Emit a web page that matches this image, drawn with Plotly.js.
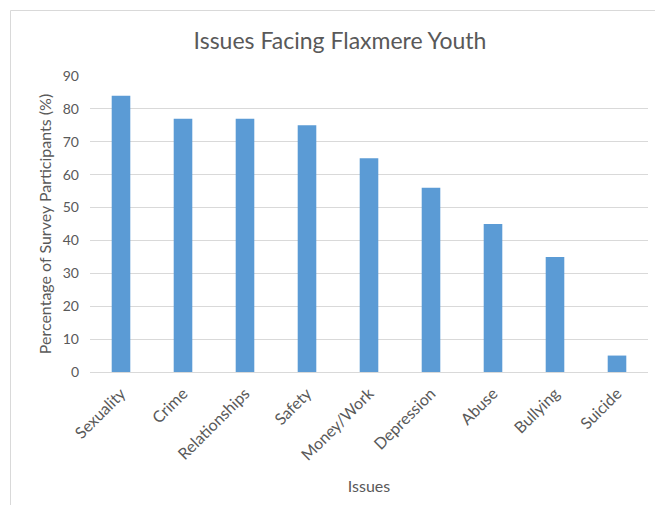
<!DOCTYPE html>
<html>
<head>
<meta charset="utf-8">
<script src="https://cdn.plot.ly/plotly-3.0.1.min.js"></script>
<style>html,body{margin:0;padding:0;background:#fff;}#chart{width:655px;height:505px;}</style>
</head>
<body>
<div id="chart"></div>
<script>
const categories = ["Sexuality", "Crime", "Relationships", "Safety", "Money/Work", "Depression", "Abuse", "Bullying", "Suicide"];
const values = [84, 77, 77, 75, 65, 56, 45, 35, 5];
const yTicks = [0, 10, 20, 30, 40, 50, 60, 70, 80, 90];

const W = 655, H = 505;
const L = 90, R = 7, T = 76, B = 133;
const pw = W - L - R, ph = H - T - B;
const px = v => (v - L) / pw;
const py = v => (H - B - v) / ph;

const font = "Lato, 'Open Sans', sans-serif";
const grey = "#595959";

const data = [{
  type: "bar",
  x: categories,
  y: values,
  marker: {color: "#5B9BD5", line: {width: 0}},
  hoverinfo: "x+y"
}];

const layout = {
  width: W, height: H,
  margin: {l: L, r: R, t: T, b: B, pad: 0},
  paper_bgcolor: "#fff",
  plot_bgcolor: "#fff",
  bargap: 0.7,
  showlegend: false,
  font: {family: font, color: grey, size: 14},
  title: {
    text: "Issues Facing Flaxmere Youth",
    font: {family: font, size: 23, color: grey},
    x: 340 / W, xref: "container", xanchor: "center",
    y: 1 - 41 / H, yref: "container", yanchor: "middle"
  },
  xaxis: {
    tickangle: -45,
    tickfont: {family: font, size: 16, color: grey},
    ticklabelstandoff: 5,
    showgrid: false,
    showline: true, linecolor: "#D9D9D9", linewidth: 1,
    ticks: "",
    title: {text: "Issues", font: {family: font, size: 16, color: grey}, standoff: 18},
    fixedrange: true
  },
  yaxis: {
    range: [0, 90],
    tickvals: yTicks,
    ticktext: yTicks.map(String),
    tickfont: {family: font, size: 14, color: grey},
    ticklabelstandoff: 10,
    showgrid: true, gridcolor: "#D9D9D9", gridwidth: 1,
    zeroline: false,
    showline: false,
    ticks: "", ticklen: 0,
    title: {text: "Percentage of Survey Participants (%)", font: {family: font, size: 16, color: grey}, standoff: 7},
    fixedrange: true
  },
  shapes: [{
    type: "rect", xref: "paper", yref: "paper",
    x0: px(10.5), x1: px(670), y0: py(520), y1: py(10.5),
    line: {color: "#D9D9D9", width: 1},
    fillcolor: "rgba(0,0,0,0)",
    layer: "below"
  }]
};

Plotly.newPlot("chart", data, layout, {displayModeBar: false, staticPlot: true});
</script>
</body>
</html>
